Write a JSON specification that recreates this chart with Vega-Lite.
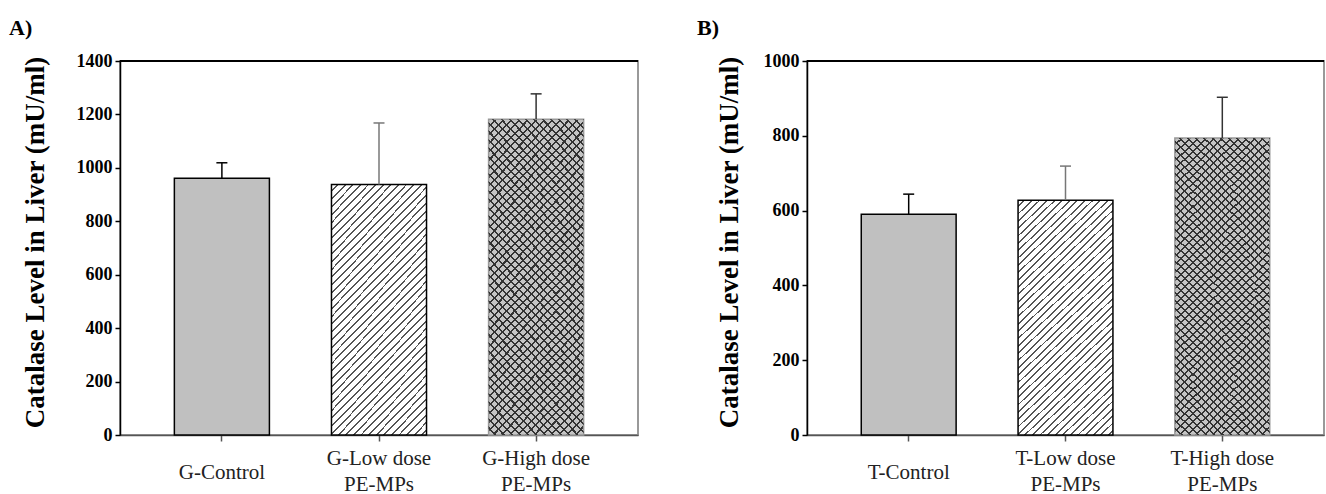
{
  "$schema": "https://vega.github.io/schema/vega-lite/v6.json",
  "padding": {"left": 8, "top": 16, "right": 2, "bottom": 0},
  "background": "white",
  "spacing": 56,
  "params": [
    {"name": "gLow", "value": {"gradient": "linear", "x1": 0, "y1": 0, "x2": 0.53, "y2": 1.356, "stops": [
        {"offset":0,"color":"#fff"},{"offset":0.015,"color":"#fff"},{"offset":0.015,"color":"#555"},{"offset":0.02,"color":"#555"},
        {"offset":0.02,"color":"#fff"},{"offset":0.035,"color":"#fff"},{"offset":0.035,"color":"#555"},{"offset":0.04,"color":"#555"},
        {"offset":0.04,"color":"#fff"},{"offset":0.055,"color":"#fff"},{"offset":0.055,"color":"#555"},{"offset":0.06,"color":"#555"},
        {"offset":0.06,"color":"#fff"},{"offset":0.075,"color":"#fff"},{"offset":0.075,"color":"#555"},{"offset":0.08,"color":"#555"},
        {"offset":0.08,"color":"#fff"},{"offset":0.095,"color":"#fff"},{"offset":0.095,"color":"#555"},{"offset":0.1,"color":"#555"},
        {"offset":0.1,"color":"#fff"},{"offset":0.115,"color":"#fff"},{"offset":0.115,"color":"#555"},{"offset":0.12,"color":"#555"},
        {"offset":0.12,"color":"#fff"},{"offset":0.135,"color":"#fff"},{"offset":0.135,"color":"#555"},{"offset":0.14,"color":"#555"},
        {"offset":0.14,"color":"#fff"},{"offset":0.155,"color":"#fff"},{"offset":0.155,"color":"#555"},{"offset":0.16,"color":"#555"},
        {"offset":0.16,"color":"#fff"},{"offset":0.175,"color":"#fff"},{"offset":0.175,"color":"#555"},{"offset":0.18,"color":"#555"},
        {"offset":0.18,"color":"#fff"},{"offset":0.195,"color":"#fff"},{"offset":0.195,"color":"#555"},{"offset":0.2,"color":"#555"},
        {"offset":0.2,"color":"#fff"},{"offset":0.215,"color":"#fff"},{"offset":0.215,"color":"#555"},{"offset":0.22,"color":"#555"},
        {"offset":0.22,"color":"#fff"},{"offset":0.235,"color":"#fff"},{"offset":0.235,"color":"#555"},{"offset":0.24,"color":"#555"},
        {"offset":0.24,"color":"#fff"},{"offset":0.255,"color":"#fff"},{"offset":0.255,"color":"#555"},{"offset":0.26,"color":"#555"},
        {"offset":0.26,"color":"#fff"},{"offset":0.275,"color":"#fff"},{"offset":0.275,"color":"#555"},{"offset":0.28,"color":"#555"},
        {"offset":0.28,"color":"#fff"},{"offset":0.295,"color":"#fff"},{"offset":0.295,"color":"#555"},{"offset":0.3,"color":"#555"},
        {"offset":0.3,"color":"#fff"},{"offset":0.315,"color":"#fff"},{"offset":0.315,"color":"#555"},{"offset":0.32,"color":"#555"},
        {"offset":0.32,"color":"#fff"},{"offset":0.335,"color":"#fff"},{"offset":0.335,"color":"#555"},{"offset":0.34,"color":"#555"},
        {"offset":0.34,"color":"#fff"},{"offset":0.355,"color":"#fff"},{"offset":0.355,"color":"#555"},{"offset":0.36,"color":"#555"},
        {"offset":0.36,"color":"#fff"},{"offset":0.375,"color":"#fff"},{"offset":0.375,"color":"#555"},{"offset":0.38,"color":"#555"},
        {"offset":0.38,"color":"#fff"},{"offset":0.395,"color":"#fff"},{"offset":0.395,"color":"#555"},{"offset":0.4,"color":"#555"},
        {"offset":0.4,"color":"#fff"},{"offset":0.415,"color":"#fff"},{"offset":0.415,"color":"#555"},{"offset":0.42,"color":"#555"},
        {"offset":0.42,"color":"#fff"},{"offset":0.435,"color":"#fff"},{"offset":0.435,"color":"#555"},{"offset":0.44,"color":"#555"},
        {"offset":0.44,"color":"#fff"},{"offset":0.455,"color":"#fff"},{"offset":0.455,"color":"#555"},{"offset":0.46,"color":"#555"},
        {"offset":0.46,"color":"#fff"},{"offset":0.475,"color":"#fff"},{"offset":0.475,"color":"#555"},{"offset":0.48,"color":"#555"},
        {"offset":0.48,"color":"#fff"},{"offset":0.495,"color":"#fff"},{"offset":0.495,"color":"#555"},{"offset":0.5,"color":"#555"},
        {"offset":0.5,"color":"#fff"},{"offset":0.515,"color":"#fff"},{"offset":0.515,"color":"#555"},{"offset":0.52,"color":"#555"},
        {"offset":0.52,"color":"#fff"},{"offset":0.535,"color":"#fff"},{"offset":0.535,"color":"#555"},{"offset":0.54,"color":"#555"},
        {"offset":0.54,"color":"#fff"},{"offset":0.555,"color":"#fff"},{"offset":0.555,"color":"#555"},{"offset":0.56,"color":"#555"},
        {"offset":0.56,"color":"#fff"},{"offset":0.575,"color":"#fff"},{"offset":0.575,"color":"#555"},{"offset":0.58,"color":"#555"},
        {"offset":0.58,"color":"#fff"},{"offset":0.595,"color":"#fff"},{"offset":0.595,"color":"#555"},{"offset":0.6,"color":"#555"},
        {"offset":0.6,"color":"#fff"},{"offset":0.615,"color":"#fff"},{"offset":0.615,"color":"#555"},{"offset":0.62,"color":"#555"},
        {"offset":0.62,"color":"#fff"},{"offset":0.635,"color":"#fff"},{"offset":0.635,"color":"#555"},{"offset":0.64,"color":"#555"},
        {"offset":0.64,"color":"#fff"},{"offset":0.655,"color":"#fff"},{"offset":0.655,"color":"#555"},{"offset":0.66,"color":"#555"},
        {"offset":0.66,"color":"#fff"},{"offset":0.675,"color":"#fff"},{"offset":0.675,"color":"#555"},{"offset":0.68,"color":"#555"},
        {"offset":0.68,"color":"#fff"},{"offset":0.695,"color":"#fff"},{"offset":0.695,"color":"#555"},{"offset":0.7,"color":"#555"},
        {"offset":0.7,"color":"#fff"},{"offset":0.715,"color":"#fff"},{"offset":0.715,"color":"#555"},{"offset":0.72,"color":"#555"},
        {"offset":0.72,"color":"#fff"},{"offset":0.735,"color":"#fff"},{"offset":0.735,"color":"#555"},{"offset":0.74,"color":"#555"},
        {"offset":0.74,"color":"#fff"},{"offset":0.755,"color":"#fff"},{"offset":0.755,"color":"#555"},{"offset":0.76,"color":"#555"},
        {"offset":0.76,"color":"#fff"},{"offset":0.775,"color":"#fff"},{"offset":0.775,"color":"#555"},{"offset":0.78,"color":"#555"},
        {"offset":0.78,"color":"#fff"},{"offset":0.795,"color":"#fff"},{"offset":0.795,"color":"#555"},{"offset":0.8,"color":"#555"},
        {"offset":0.8,"color":"#fff"},{"offset":0.815,"color":"#fff"},{"offset":0.815,"color":"#555"},{"offset":0.82,"color":"#555"},
        {"offset":0.82,"color":"#fff"},{"offset":0.835,"color":"#fff"},{"offset":0.835,"color":"#555"},{"offset":0.84,"color":"#555"},
        {"offset":0.84,"color":"#fff"},{"offset":0.855,"color":"#fff"},{"offset":0.855,"color":"#555"},{"offset":0.86,"color":"#555"},
        {"offset":0.86,"color":"#fff"},{"offset":0.875,"color":"#fff"},{"offset":0.875,"color":"#555"},{"offset":0.88,"color":"#555"},
        {"offset":0.88,"color":"#fff"},{"offset":0.895,"color":"#fff"},{"offset":0.895,"color":"#555"},{"offset":0.9,"color":"#555"},
        {"offset":0.9,"color":"#fff"},{"offset":0.915,"color":"#fff"},{"offset":0.915,"color":"#555"},{"offset":0.92,"color":"#555"},
        {"offset":0.92,"color":"#fff"},{"offset":0.935,"color":"#fff"},{"offset":0.935,"color":"#555"},{"offset":0.94,"color":"#555"},
        {"offset":0.94,"color":"#fff"},{"offset":0.955,"color":"#fff"},{"offset":0.955,"color":"#555"},{"offset":0.96,"color":"#555"},
        {"offset":0.96,"color":"#fff"},{"offset":0.975,"color":"#fff"},{"offset":0.975,"color":"#555"},{"offset":0.98,"color":"#555"},
        {"offset":0.98,"color":"#fff"},{"offset":0.995,"color":"#fff"},{"offset":0.995,"color":"#555"},{"offset":1,"color":"#555"}
      ]}},
    {"name": "gHigh1", "value": {"gradient": "linear", "x1": 0, "y1": 0, "x2": 0.379, "y2": 1.222, "stops": [
        {"offset":0,"color":"#c4c4c4"},{"offset":0.015,"color":"#c4c4c4"},{"offset":0.015,"color":"#333"},{"offset":0.02,"color":"#333"},
        {"offset":0.02,"color":"#c4c4c4"},{"offset":0.035,"color":"#c4c4c4"},{"offset":0.035,"color":"#333"},{"offset":0.04,"color":"#333"},
        {"offset":0.04,"color":"#c4c4c4"},{"offset":0.055,"color":"#c4c4c4"},{"offset":0.055,"color":"#333"},{"offset":0.06,"color":"#333"},
        {"offset":0.06,"color":"#c4c4c4"},{"offset":0.075,"color":"#c4c4c4"},{"offset":0.075,"color":"#333"},{"offset":0.08,"color":"#333"},
        {"offset":0.08,"color":"#c4c4c4"},{"offset":0.095,"color":"#c4c4c4"},{"offset":0.095,"color":"#333"},{"offset":0.1,"color":"#333"},
        {"offset":0.1,"color":"#c4c4c4"},{"offset":0.115,"color":"#c4c4c4"},{"offset":0.115,"color":"#333"},{"offset":0.12,"color":"#333"},
        {"offset":0.12,"color":"#c4c4c4"},{"offset":0.135,"color":"#c4c4c4"},{"offset":0.135,"color":"#333"},{"offset":0.14,"color":"#333"},
        {"offset":0.14,"color":"#c4c4c4"},{"offset":0.155,"color":"#c4c4c4"},{"offset":0.155,"color":"#333"},{"offset":0.16,"color":"#333"},
        {"offset":0.16,"color":"#c4c4c4"},{"offset":0.175,"color":"#c4c4c4"},{"offset":0.175,"color":"#333"},{"offset":0.18,"color":"#333"},
        {"offset":0.18,"color":"#c4c4c4"},{"offset":0.195,"color":"#c4c4c4"},{"offset":0.195,"color":"#333"},{"offset":0.2,"color":"#333"},
        {"offset":0.2,"color":"#c4c4c4"},{"offset":0.215,"color":"#c4c4c4"},{"offset":0.215,"color":"#333"},{"offset":0.22,"color":"#333"},
        {"offset":0.22,"color":"#c4c4c4"},{"offset":0.235,"color":"#c4c4c4"},{"offset":0.235,"color":"#333"},{"offset":0.24,"color":"#333"},
        {"offset":0.24,"color":"#c4c4c4"},{"offset":0.255,"color":"#c4c4c4"},{"offset":0.255,"color":"#333"},{"offset":0.26,"color":"#333"},
        {"offset":0.26,"color":"#c4c4c4"},{"offset":0.275,"color":"#c4c4c4"},{"offset":0.275,"color":"#333"},{"offset":0.28,"color":"#333"},
        {"offset":0.28,"color":"#c4c4c4"},{"offset":0.295,"color":"#c4c4c4"},{"offset":0.295,"color":"#333"},{"offset":0.3,"color":"#333"},
        {"offset":0.3,"color":"#c4c4c4"},{"offset":0.315,"color":"#c4c4c4"},{"offset":0.315,"color":"#333"},{"offset":0.32,"color":"#333"},
        {"offset":0.32,"color":"#c4c4c4"},{"offset":0.335,"color":"#c4c4c4"},{"offset":0.335,"color":"#333"},{"offset":0.34,"color":"#333"},
        {"offset":0.34,"color":"#c4c4c4"},{"offset":0.355,"color":"#c4c4c4"},{"offset":0.355,"color":"#333"},{"offset":0.36,"color":"#333"},
        {"offset":0.36,"color":"#c4c4c4"},{"offset":0.375,"color":"#c4c4c4"},{"offset":0.375,"color":"#333"},{"offset":0.38,"color":"#333"},
        {"offset":0.38,"color":"#c4c4c4"},{"offset":0.395,"color":"#c4c4c4"},{"offset":0.395,"color":"#333"},{"offset":0.4,"color":"#333"},
        {"offset":0.4,"color":"#c4c4c4"},{"offset":0.415,"color":"#c4c4c4"},{"offset":0.415,"color":"#333"},{"offset":0.42,"color":"#333"},
        {"offset":0.42,"color":"#c4c4c4"},{"offset":0.435,"color":"#c4c4c4"},{"offset":0.435,"color":"#333"},{"offset":0.44,"color":"#333"},
        {"offset":0.44,"color":"#c4c4c4"},{"offset":0.455,"color":"#c4c4c4"},{"offset":0.455,"color":"#333"},{"offset":0.46,"color":"#333"},
        {"offset":0.46,"color":"#c4c4c4"},{"offset":0.475,"color":"#c4c4c4"},{"offset":0.475,"color":"#333"},{"offset":0.48,"color":"#333"},
        {"offset":0.48,"color":"#c4c4c4"},{"offset":0.495,"color":"#c4c4c4"},{"offset":0.495,"color":"#333"},{"offset":0.5,"color":"#333"},
        {"offset":0.5,"color":"#c4c4c4"},{"offset":0.515,"color":"#c4c4c4"},{"offset":0.515,"color":"#333"},{"offset":0.52,"color":"#333"},
        {"offset":0.52,"color":"#c4c4c4"},{"offset":0.535,"color":"#c4c4c4"},{"offset":0.535,"color":"#333"},{"offset":0.54,"color":"#333"},
        {"offset":0.54,"color":"#c4c4c4"},{"offset":0.555,"color":"#c4c4c4"},{"offset":0.555,"color":"#333"},{"offset":0.56,"color":"#333"},
        {"offset":0.56,"color":"#c4c4c4"},{"offset":0.575,"color":"#c4c4c4"},{"offset":0.575,"color":"#333"},{"offset":0.58,"color":"#333"},
        {"offset":0.58,"color":"#c4c4c4"},{"offset":0.595,"color":"#c4c4c4"},{"offset":0.595,"color":"#333"},{"offset":0.6,"color":"#333"},
        {"offset":0.6,"color":"#c4c4c4"},{"offset":0.615,"color":"#c4c4c4"},{"offset":0.615,"color":"#333"},{"offset":0.62,"color":"#333"},
        {"offset":0.62,"color":"#c4c4c4"},{"offset":0.635,"color":"#c4c4c4"},{"offset":0.635,"color":"#333"},{"offset":0.64,"color":"#333"},
        {"offset":0.64,"color":"#c4c4c4"},{"offset":0.655,"color":"#c4c4c4"},{"offset":0.655,"color":"#333"},{"offset":0.66,"color":"#333"},
        {"offset":0.66,"color":"#c4c4c4"},{"offset":0.675,"color":"#c4c4c4"},{"offset":0.675,"color":"#333"},{"offset":0.68,"color":"#333"},
        {"offset":0.68,"color":"#c4c4c4"},{"offset":0.695,"color":"#c4c4c4"},{"offset":0.695,"color":"#333"},{"offset":0.7,"color":"#333"},
        {"offset":0.7,"color":"#c4c4c4"},{"offset":0.715,"color":"#c4c4c4"},{"offset":0.715,"color":"#333"},{"offset":0.72,"color":"#333"},
        {"offset":0.72,"color":"#c4c4c4"},{"offset":0.735,"color":"#c4c4c4"},{"offset":0.735,"color":"#333"},{"offset":0.74,"color":"#333"},
        {"offset":0.74,"color":"#c4c4c4"},{"offset":0.755,"color":"#c4c4c4"},{"offset":0.755,"color":"#333"},{"offset":0.76,"color":"#333"},
        {"offset":0.76,"color":"#c4c4c4"},{"offset":0.775,"color":"#c4c4c4"},{"offset":0.775,"color":"#333"},{"offset":0.78,"color":"#333"},
        {"offset":0.78,"color":"#c4c4c4"},{"offset":0.795,"color":"#c4c4c4"},{"offset":0.795,"color":"#333"},{"offset":0.8,"color":"#333"},
        {"offset":0.8,"color":"#c4c4c4"},{"offset":0.815,"color":"#c4c4c4"},{"offset":0.815,"color":"#333"},{"offset":0.82,"color":"#333"},
        {"offset":0.82,"color":"#c4c4c4"},{"offset":0.835,"color":"#c4c4c4"},{"offset":0.835,"color":"#333"},{"offset":0.84,"color":"#333"},
        {"offset":0.84,"color":"#c4c4c4"},{"offset":0.855,"color":"#c4c4c4"},{"offset":0.855,"color":"#333"},{"offset":0.86,"color":"#333"},
        {"offset":0.86,"color":"#c4c4c4"},{"offset":0.875,"color":"#c4c4c4"},{"offset":0.875,"color":"#333"},{"offset":0.88,"color":"#333"},
        {"offset":0.88,"color":"#c4c4c4"},{"offset":0.895,"color":"#c4c4c4"},{"offset":0.895,"color":"#333"},{"offset":0.9,"color":"#333"},
        {"offset":0.9,"color":"#c4c4c4"},{"offset":0.915,"color":"#c4c4c4"},{"offset":0.915,"color":"#333"},{"offset":0.92,"color":"#333"},
        {"offset":0.92,"color":"#c4c4c4"},{"offset":0.935,"color":"#c4c4c4"},{"offset":0.935,"color":"#333"},{"offset":0.94,"color":"#333"},
        {"offset":0.94,"color":"#c4c4c4"},{"offset":0.955,"color":"#c4c4c4"},{"offset":0.955,"color":"#333"},{"offset":0.96,"color":"#333"},
        {"offset":0.96,"color":"#c4c4c4"},{"offset":0.975,"color":"#c4c4c4"},{"offset":0.975,"color":"#333"},{"offset":0.98,"color":"#333"},
        {"offset":0.98,"color":"#c4c4c4"},{"offset":0.995,"color":"#c4c4c4"},{"offset":0.995,"color":"#333"},{"offset":1,"color":"#333"}
      ]}},
    {"name": "gHigh2", "value": {"gradient": "linear", "x1": 0, "y1": 1, "x2": 0.379, "y2": -0.222, "stops": [
        {"offset":0,"color":"transparent"},{"offset":0.015,"color":"transparent"},{"offset":0.015,"color":"#333"},{"offset":0.02,"color":"#333"},
        {"offset":0.02,"color":"transparent"},{"offset":0.035,"color":"transparent"},{"offset":0.035,"color":"#333"},{"offset":0.04,"color":"#333"},
        {"offset":0.04,"color":"transparent"},{"offset":0.055,"color":"transparent"},{"offset":0.055,"color":"#333"},{"offset":0.06,"color":"#333"},
        {"offset":0.06,"color":"transparent"},{"offset":0.075,"color":"transparent"},{"offset":0.075,"color":"#333"},{"offset":0.08,"color":"#333"},
        {"offset":0.08,"color":"transparent"},{"offset":0.095,"color":"transparent"},{"offset":0.095,"color":"#333"},{"offset":0.1,"color":"#333"},
        {"offset":0.1,"color":"transparent"},{"offset":0.115,"color":"transparent"},{"offset":0.115,"color":"#333"},{"offset":0.12,"color":"#333"},
        {"offset":0.12,"color":"transparent"},{"offset":0.135,"color":"transparent"},{"offset":0.135,"color":"#333"},{"offset":0.14,"color":"#333"},
        {"offset":0.14,"color":"transparent"},{"offset":0.155,"color":"transparent"},{"offset":0.155,"color":"#333"},{"offset":0.16,"color":"#333"},
        {"offset":0.16,"color":"transparent"},{"offset":0.175,"color":"transparent"},{"offset":0.175,"color":"#333"},{"offset":0.18,"color":"#333"},
        {"offset":0.18,"color":"transparent"},{"offset":0.195,"color":"transparent"},{"offset":0.195,"color":"#333"},{"offset":0.2,"color":"#333"},
        {"offset":0.2,"color":"transparent"},{"offset":0.215,"color":"transparent"},{"offset":0.215,"color":"#333"},{"offset":0.22,"color":"#333"},
        {"offset":0.22,"color":"transparent"},{"offset":0.235,"color":"transparent"},{"offset":0.235,"color":"#333"},{"offset":0.24,"color":"#333"},
        {"offset":0.24,"color":"transparent"},{"offset":0.255,"color":"transparent"},{"offset":0.255,"color":"#333"},{"offset":0.26,"color":"#333"},
        {"offset":0.26,"color":"transparent"},{"offset":0.275,"color":"transparent"},{"offset":0.275,"color":"#333"},{"offset":0.28,"color":"#333"},
        {"offset":0.28,"color":"transparent"},{"offset":0.295,"color":"transparent"},{"offset":0.295,"color":"#333"},{"offset":0.3,"color":"#333"},
        {"offset":0.3,"color":"transparent"},{"offset":0.315,"color":"transparent"},{"offset":0.315,"color":"#333"},{"offset":0.32,"color":"#333"},
        {"offset":0.32,"color":"transparent"},{"offset":0.335,"color":"transparent"},{"offset":0.335,"color":"#333"},{"offset":0.34,"color":"#333"},
        {"offset":0.34,"color":"transparent"},{"offset":0.355,"color":"transparent"},{"offset":0.355,"color":"#333"},{"offset":0.36,"color":"#333"},
        {"offset":0.36,"color":"transparent"},{"offset":0.375,"color":"transparent"},{"offset":0.375,"color":"#333"},{"offset":0.38,"color":"#333"},
        {"offset":0.38,"color":"transparent"},{"offset":0.395,"color":"transparent"},{"offset":0.395,"color":"#333"},{"offset":0.4,"color":"#333"},
        {"offset":0.4,"color":"transparent"},{"offset":0.415,"color":"transparent"},{"offset":0.415,"color":"#333"},{"offset":0.42,"color":"#333"},
        {"offset":0.42,"color":"transparent"},{"offset":0.435,"color":"transparent"},{"offset":0.435,"color":"#333"},{"offset":0.44,"color":"#333"},
        {"offset":0.44,"color":"transparent"},{"offset":0.455,"color":"transparent"},{"offset":0.455,"color":"#333"},{"offset":0.46,"color":"#333"},
        {"offset":0.46,"color":"transparent"},{"offset":0.475,"color":"transparent"},{"offset":0.475,"color":"#333"},{"offset":0.48,"color":"#333"},
        {"offset":0.48,"color":"transparent"},{"offset":0.495,"color":"transparent"},{"offset":0.495,"color":"#333"},{"offset":0.5,"color":"#333"},
        {"offset":0.5,"color":"transparent"},{"offset":0.515,"color":"transparent"},{"offset":0.515,"color":"#333"},{"offset":0.52,"color":"#333"},
        {"offset":0.52,"color":"transparent"},{"offset":0.535,"color":"transparent"},{"offset":0.535,"color":"#333"},{"offset":0.54,"color":"#333"},
        {"offset":0.54,"color":"transparent"},{"offset":0.555,"color":"transparent"},{"offset":0.555,"color":"#333"},{"offset":0.56,"color":"#333"},
        {"offset":0.56,"color":"transparent"},{"offset":0.575,"color":"transparent"},{"offset":0.575,"color":"#333"},{"offset":0.58,"color":"#333"},
        {"offset":0.58,"color":"transparent"},{"offset":0.595,"color":"transparent"},{"offset":0.595,"color":"#333"},{"offset":0.6,"color":"#333"},
        {"offset":0.6,"color":"transparent"},{"offset":0.615,"color":"transparent"},{"offset":0.615,"color":"#333"},{"offset":0.62,"color":"#333"},
        {"offset":0.62,"color":"transparent"},{"offset":0.635,"color":"transparent"},{"offset":0.635,"color":"#333"},{"offset":0.64,"color":"#333"},
        {"offset":0.64,"color":"transparent"},{"offset":0.655,"color":"transparent"},{"offset":0.655,"color":"#333"},{"offset":0.66,"color":"#333"},
        {"offset":0.66,"color":"transparent"},{"offset":0.675,"color":"transparent"},{"offset":0.675,"color":"#333"},{"offset":0.68,"color":"#333"},
        {"offset":0.68,"color":"transparent"},{"offset":0.695,"color":"transparent"},{"offset":0.695,"color":"#333"},{"offset":0.7,"color":"#333"},
        {"offset":0.7,"color":"transparent"},{"offset":0.715,"color":"transparent"},{"offset":0.715,"color":"#333"},{"offset":0.72,"color":"#333"},
        {"offset":0.72,"color":"transparent"},{"offset":0.735,"color":"transparent"},{"offset":0.735,"color":"#333"},{"offset":0.74,"color":"#333"},
        {"offset":0.74,"color":"transparent"},{"offset":0.755,"color":"transparent"},{"offset":0.755,"color":"#333"},{"offset":0.76,"color":"#333"},
        {"offset":0.76,"color":"transparent"},{"offset":0.775,"color":"transparent"},{"offset":0.775,"color":"#333"},{"offset":0.78,"color":"#333"},
        {"offset":0.78,"color":"transparent"},{"offset":0.795,"color":"transparent"},{"offset":0.795,"color":"#333"},{"offset":0.8,"color":"#333"},
        {"offset":0.8,"color":"transparent"},{"offset":0.815,"color":"transparent"},{"offset":0.815,"color":"#333"},{"offset":0.82,"color":"#333"},
        {"offset":0.82,"color":"transparent"},{"offset":0.835,"color":"transparent"},{"offset":0.835,"color":"#333"},{"offset":0.84,"color":"#333"},
        {"offset":0.84,"color":"transparent"},{"offset":0.855,"color":"transparent"},{"offset":0.855,"color":"#333"},{"offset":0.86,"color":"#333"},
        {"offset":0.86,"color":"transparent"},{"offset":0.875,"color":"transparent"},{"offset":0.875,"color":"#333"},{"offset":0.88,"color":"#333"},
        {"offset":0.88,"color":"transparent"},{"offset":0.895,"color":"transparent"},{"offset":0.895,"color":"#333"},{"offset":0.9,"color":"#333"},
        {"offset":0.9,"color":"transparent"},{"offset":0.915,"color":"transparent"},{"offset":0.915,"color":"#333"},{"offset":0.92,"color":"#333"},
        {"offset":0.92,"color":"transparent"},{"offset":0.935,"color":"transparent"},{"offset":0.935,"color":"#333"},{"offset":0.94,"color":"#333"},
        {"offset":0.94,"color":"transparent"},{"offset":0.955,"color":"transparent"},{"offset":0.955,"color":"#333"},{"offset":0.96,"color":"#333"},
        {"offset":0.96,"color":"transparent"},{"offset":0.975,"color":"transparent"},{"offset":0.975,"color":"#333"},{"offset":0.98,"color":"#333"},
        {"offset":0.98,"color":"transparent"},{"offset":0.995,"color":"transparent"},{"offset":0.995,"color":"#333"},{"offset":1,"color":"#333"}
      ]}}
  ],
  "datasets": {
    "A": [
      {"group": "G-Control", "mean": 961, "upper": 1019},
      {"group": "G-Low dose|PE-MPs", "mean": 938, "upper": 1168},
      {"group": "G-High dose|PE-MPs", "mean": 1182, "upper": 1277}
    ],
    "B": [
      {"group": "T-Control", "mean": 590, "upper": 644},
      {"group": "T-Low dose|PE-MPs", "mean": 628, "upper": 719},
      {"group": "T-High dose|PE-MPs", "mean": 794, "upper": 903}
    ]
  },
  "hconcat": [
    {
      "width": 518,
      "height": 374,
      "title": {"text": "A)", "anchor": "start", "frame": "group", "dx": -111, "dy": 31, "offset": 26, "baseline": "alphabetic"},
      "data": {"name": "A"},
      "layer": [
        {
          "encoding": {
            "x": {"field": "group", "type": "nominal", "sort": null,
              "scale": {"domain": ["G-Control", "G-Low dose|PE-MPs", "G-High dose|PE-MPs"], "paddingInner": 0.395, "paddingOuter": 0.346},
              "axis": {"title": null}},
            "y": {"field": "mean", "type": "quantitative",
              "scale": {"domain": [0, 1400], "nice": false},
              "axis": {"title": "Catalase Level in Liver (mU/ml)", "format": "d", "values": [0, 200, 400, 600, 800, 1000, 1200, 1400], "titlePadding": 27, "titleY": 181}}
          },
          "layer": [
            {"transform": [{"filter": "datum.group == 'G-Control'"}], "mark": {"type": "bar", "fill": "#c0c0c0", "stroke": "black", "strokeWidth": 1.5}},
            {"transform": [{"filter": "datum.group == 'G-Low dose|PE-MPs'"}], "mark": {"type": "bar", "fill": {"expr": "gLow"}, "stroke": "black", "strokeWidth": 1.5}},
            {"transform": [{"filter": "datum.group == 'G-High dose|PE-MPs'"}], "mark": {"type": "bar", "fill": {"expr": "gHigh1"}, "stroke": "#999", "strokeWidth": 1.5}},
            {"transform": [{"filter": "datum.group == 'G-High dose|PE-MPs'"}], "mark": {"type": "bar", "fill": {"expr": "gHigh2"}, "strokeWidth": 0}},
            {"mark": {"type": "rule", "strokeWidth": 1.5},
              "encoding": {"y2": {"field": "upper"},
                "color": {"field": "group", "type": "nominal", "scale": {"domain": ["G-Control", "G-Low dose|PE-MPs", "G-High dose|PE-MPs"], "range": ["#000000", "#777777", "#333333"]}, "legend": null}}},
            {"mark": {"type": "tick", "size": 11, "thickness": 1.5, "opacity": 1},
              "encoding": {"y": {"field": "upper", "type": "quantitative"},
                "color": {"field": "group", "type": "nominal", "scale": {"domain": ["G-Control", "G-Low dose|PE-MPs", "G-High dose|PE-MPs"], "range": ["#000000", "#777777", "#333333"]}, "legend": null}}}
          ]
        },
        {"mark": {"type": "rule", "color": "black", "strokeWidth": 2}, "encoding": {"y": {"datum": 1400, "type": "quantitative"}}}
      ]
    },
    {
      "width": 517,
      "height": 374,
      "title": {"text": "B)", "anchor": "start", "frame": "group", "dx": -110, "dy": 31, "offset": 26, "baseline": "alphabetic"},
      "data": {"name": "B"},
      "layer": [
        {
          "encoding": {
            "x": {"field": "group", "type": "nominal", "sort": null,
              "scale": {"domain": ["T-Control", "T-Low dose|PE-MPs", "T-High dose|PE-MPs"], "paddingInner": 0.395, "paddingOuter": 0.346},
              "axis": {"title": null}},
            "y": {"field": "mean", "type": "quantitative",
              "scale": {"domain": [0, 1000], "nice": false},
              "axis": {"title": "Catalase Level in Liver (mU/ml)", "format": "d", "values": [0, 200, 400, 600, 800, 1000], "titlePadding": 20, "titleY": 181}}
          },
          "layer": [
            {"transform": [{"filter": "datum.group == 'T-Control'"}], "mark": {"type": "bar", "fill": "#c0c0c0", "stroke": "black", "strokeWidth": 1.5}},
            {"transform": [{"filter": "datum.group == 'T-Low dose|PE-MPs'"}], "mark": {"type": "bar", "fill": {"expr": "gLow"}, "stroke": "black", "strokeWidth": 1.5}},
            {"transform": [{"filter": "datum.group == 'T-High dose|PE-MPs'"}], "mark": {"type": "bar", "fill": {"expr": "gHigh1"}, "stroke": "#999", "strokeWidth": 1.5}},
            {"transform": [{"filter": "datum.group == 'T-High dose|PE-MPs'"}], "mark": {"type": "bar", "fill": {"expr": "gHigh2"}, "strokeWidth": 0}},
            {"mark": {"type": "rule", "strokeWidth": 1.5},
              "encoding": {"y2": {"field": "upper"},
                "color": {"field": "group", "type": "nominal", "scale": {"domain": ["T-Control", "T-Low dose|PE-MPs", "T-High dose|PE-MPs"], "range": ["#000000", "#777777", "#333333"]}, "legend": null}}},
            {"mark": {"type": "tick", "size": 11, "thickness": 1.5, "opacity": 1},
              "encoding": {"y": {"field": "upper", "type": "quantitative"},
                "color": {"field": "group", "type": "nominal", "scale": {"domain": ["T-Control", "T-Low dose|PE-MPs", "T-High dose|PE-MPs"], "range": ["#000000", "#777777", "#333333"]}, "legend": null}}}
          ]
        },
        {"mark": {"type": "rule", "color": "black", "strokeWidth": 2}, "encoding": {"y": {"datum": 1000, "type": "quantitative"}}}
      ]
    }
  ],
  "config": {
    "view": {"stroke": "#999999", "strokeWidth": 2},
    "title": {"font": "Liberation Serif", "fontSize": 22, "fontWeight": "bold", "color": "black"},
    "axis": {"grid": false},
    "axisY": {
      "domainColor": "black", "domainWidth": 1.5, "tickColor": "black", "tickSize": 5, "tickWidth": 1.5,
      "labelFont": "Liberation Serif", "labelFontSize": 18, "labelFontWeight": "bold", "labelColor": "black", "labelPadding": 3,
      "titleFont": "Liberation Serif", "titleFontSize": 27, "titleFontWeight": "bold", "titleColor": "black"
    },
    "axisX": {
      "labelAngle": 0, "labelExpr": "split(datum.label, '|')",
      "labelFont": "Liberation Serif", "labelFontSize": 21, "labelColor": "#222222",
      "labelLineHeight": 26, "labelBaseline": "top",
      "labelPadding": {"condition": {"test": "indexof(datum.value, '|') < 0", "value": 20}, "value": 6},
      "tickSize": 6, "tickColor": "#555555", "tickWidth": 1.5, "domainColor": "#555555", "domainWidth": 1.5
    }
  }
}
